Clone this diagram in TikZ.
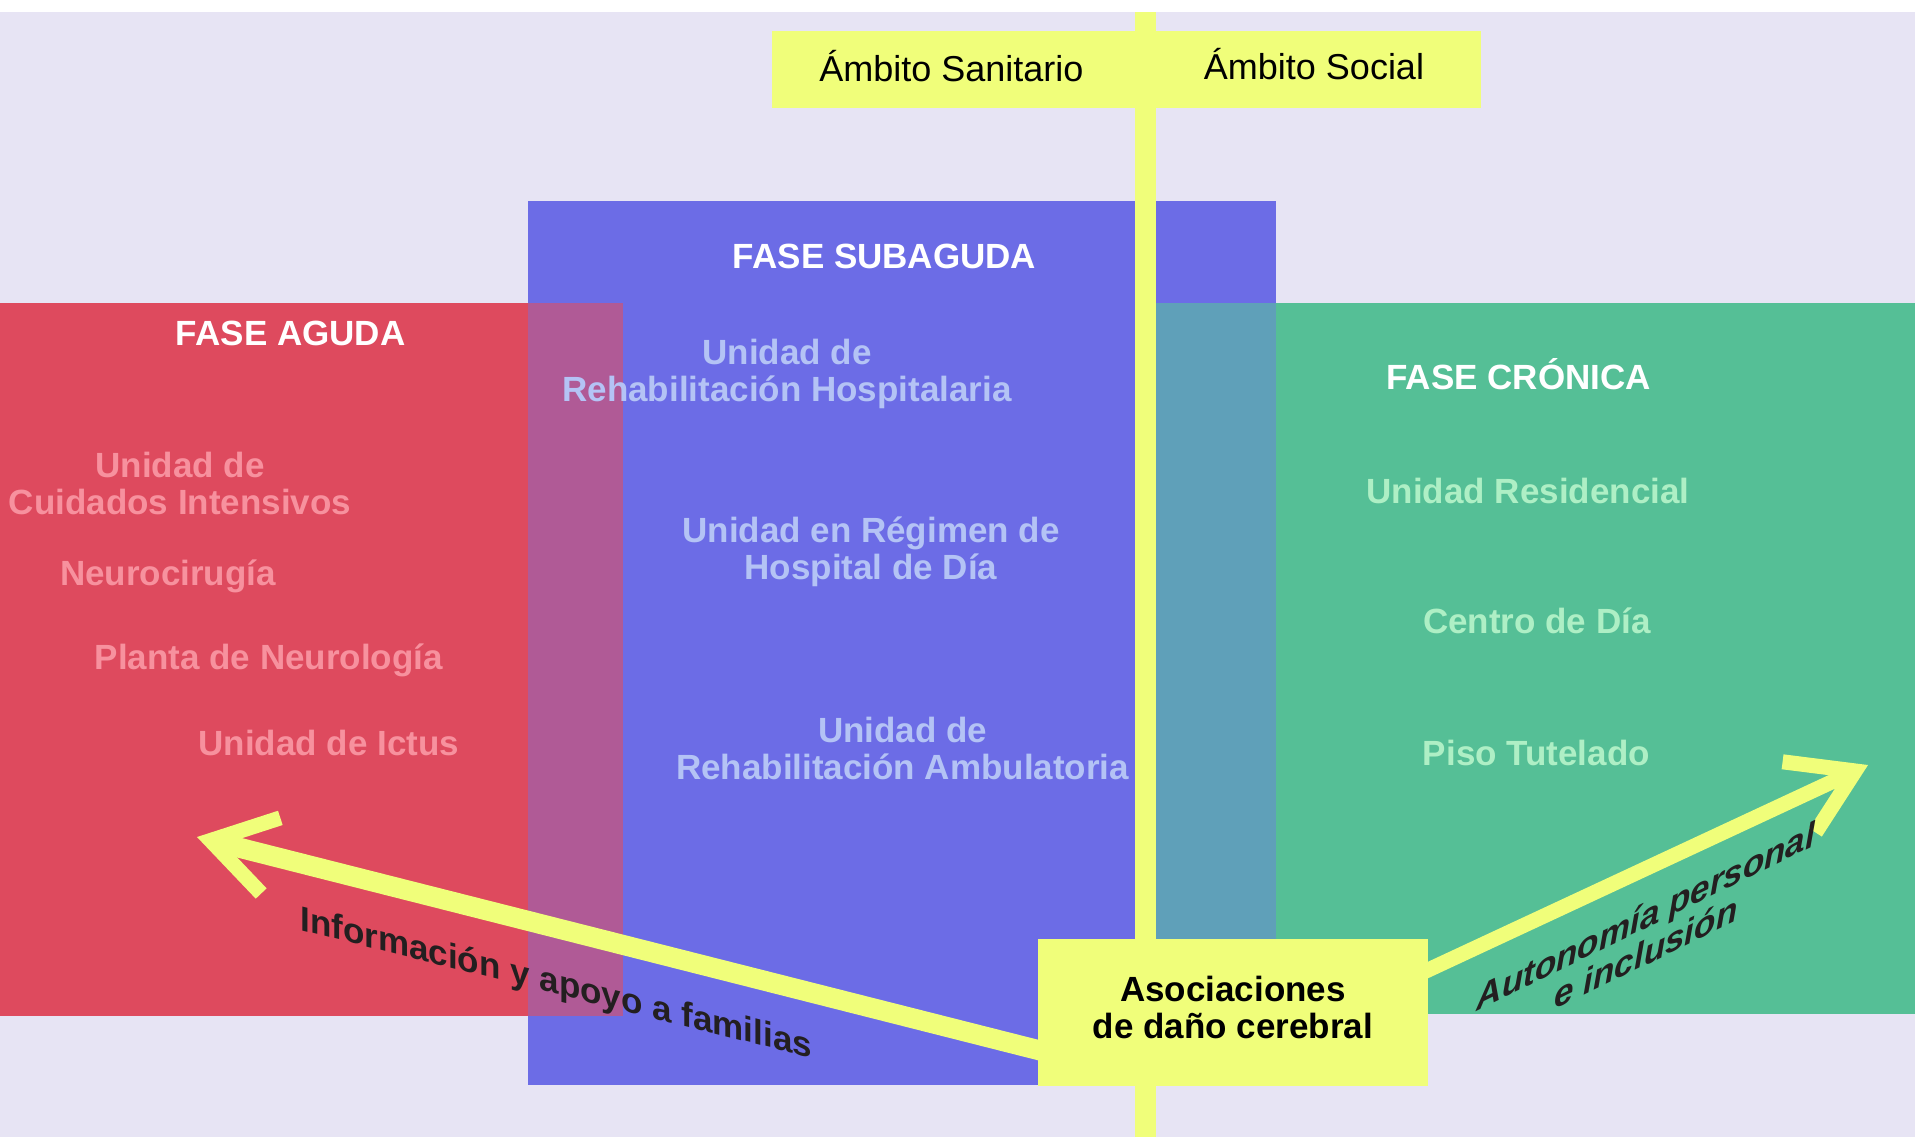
\documentclass[tikz,border=0pt]{standalone}
\usepackage{fontspec}
\setmainfont{Liberation Sans}
\usetikzlibrary{arrows.meta}

\definecolor{lavender}{HTML}{E7E4F4}
\definecolor{agudared}{HTML}{DE4A5E}
\definecolor{subblue}{HTML}{6C6CE6}
\definecolor{overpurple}{HTML}{B05A96}
\definecolor{overteal}{HTML}{5FA0B9}
\definecolor{cronicgreen}{HTML}{55BF96}
\definecolor{lineyellow}{HTML}{F0FE7A}
\definecolor{pinktext}{HTML}{F7919E}
\definecolor{bluetext}{HTML}{B4C3F5}
\definecolor{greentext}{HTML}{AEEFC5}
\definecolor{darktext}{HTML}{231F20}

\begin{document}
\begin{tikzpicture}[x=0.5pt,y=-0.5pt,
phasetitle/.style={font=\bfseries\fontsize{17.5}{18.5}\selectfont,text=white,anchor=base,inner sep=0pt},
unit/.style={font=\bfseries\fontsize{17.5}{18.5}\selectfont,align=center,anchor=base,inner sep=0pt},
unitred/.style={unit,text=pinktext},
unitblue/.style={unit,text=bluetext},
unitgreen/.style={unit,text=greentext},
yellowbox/.style={fill=lineyellow,inner sep=0pt},
ambitotext/.style={font=\fontsize{18}{19}\selectfont,text=black,anchor=base,inner sep=0pt},
arrowlabel/.style={font=\bfseries\fontsize{17.5}{18.5}\selectfont,text=darktext,inner sep=0pt},
bigarrow/.style={draw=lineyellow,-{Straight Barb[length=31pt,width=39pt,line width=7.5pt,sharp]}}]

\useasboundingbox (0,0) rectangle (1915,1137);
\fill [white] (0,0) rectangle (1915,1137);
\fill [lavender] (0,12) rectangle (1915,1137);

% fases
\fill [subblue] (528,201) rectangle (1276,1085);
\fill [agudared] (0,303) rectangle (623,1016);
\fill [overpurple] (528,303) rectangle (623,1016);
\fill [cronicgreen] (1146,303) rectangle (1915,1014);
\fill [overteal] (1146,303) rectangle (1276,1014);

% eje sanitario / social
\fill [lineyellow] (1135,12) rectangle (1156,1137);
\node (ambito) at (1126.5,69.5) [yellowbox,minimum width=354.5pt,minimum height=38.5pt] {};
\node (sanit) at (951.4,81) [ambitotext] {Ámbito Sanitario};
\node (social) at (1314,79) [ambitotext] {Ámbito Social};

\node (asoc) at (1233,1012.5) [yellowbox,minimum width=195pt,minimum height=73.5pt,text depth=5pt,
  font=\bfseries\fontsize{17.5}{18.5}\selectfont,align=center,text=black] {Asociaciones\\de daño cerebral};

\coordinate (infoTip) at (197,837);
\coordinate (autoTip) at (1868,765);
\draw [bigarrow,line width=10pt] ([xshift=3pt,yshift=17.5pt]asoc.south west) -- (infoTip);
\draw [bigarrow,line width=7.5pt] ([xshift=-3pt,yshift=-17pt]asoc.north east) -- (autoTip);

\node (infoL) at (300,930) [arrowlabel,anchor=base west,yslant=-0.25] {Información y apoyo a familias};
\node (autoL) at (1646,934) [arrowlabel,font=\bfseries\itshape\fontsize{17.5}{18.5}\selectfont,
  align=center,yslant=0.49] {Autonomía personal\\e inclusión};

% fase aguda
\node (agudaT) at (290.7,345.7) [phasetitle] {FASE AGUDA};
\node (ucint) at (180,514.3) [unitred] {Unidad de\\Cuidados Intensivos};
\node (neuroc) at (168,585) [unitred] {Neurocirugía};
\node (plneuro) at (268.8,669.3) [unitred] {Planta de Neurología};
\node (uictus) at (328.8,755) [unitred] {Unidad de Ictus};

% fase subaguda
\node (subagT) at (884.6,268.3) [phasetitle] {FASE SUBAGUDA};
\node (urhosp) at (787,401.7) [unitblue] {Unidad de\\Rehabilitación Hospitalaria};
\node (uhdia) at (871,579.3) [unitblue] {Unidad en Régimen de\\Hospital de Día};
\node (uramb) at (902.6,779.3) [unitblue] {Unidad de\\Rehabilitación Ambulatoria};

% fase cronica
\node (cronT) at (1518.6,389.3) [phasetitle] {FASE CRÓNICA};
\node (ures) at (1528,503.3) [unitgreen] {Unidad Residencial};
\node (cdia) at (1536.8,633.3) [unitgreen] {Centro de Día};
\node (ptut) at (1536.4,765) [unitgreen] {Piso Tutelado};

\end{tikzpicture}
\end{document}
